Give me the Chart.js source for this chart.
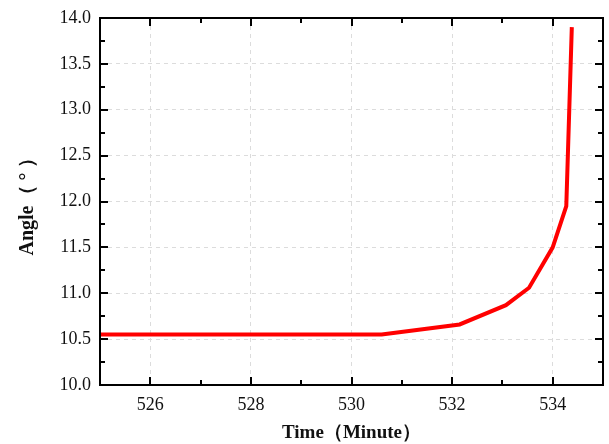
<!DOCTYPE html>
<html>
<head>
<meta charset="utf-8">
<script src="https://cdn.jsdelivr.net/npm/chart.js@4.4.0/dist/chart.umd.min.js"></script>
<style>
  html, body { margin: 0; padding: 0; background: #fff; }
</style>
</head>
<body>
<canvas id="angle-chart" width="609" height="444"></canvas>
<script>
// values
const timeMinutes = [525, 530.6, 532.15, 533.07, 533.53, 534.0, 534.27, 534.38];
const angleDeg = [10.55, 10.55, 10.66, 10.87, 11.06, 11.5, 11.95, 13.9];

const xMajor = [526, 528, 530, 532, 534];
const xMinor = [525, 527, 529, 531, 533, 535];
const yMajor = [10, 10.5, 11, 11.5, 12, 12.5, 13, 13.5, 14];
const yMinor = [10.25, 10.75, 11.25, 11.75, 12.25, 12.75, 13.25, 13.75];

const font = 'Liberation Serif';

// Origin style frame: box + inward ticks on all four sides
const frameTicks = {
  id: 'frameTicks',
  afterDraw(chart) {
    const { ctx, chartArea: a, scales } = chart;
    ctx.save();
    ctx.strokeStyle = '#000';
    ctx.lineWidth = 2;
    ctx.strokeRect(a.left, a.top, a.right - a.left, a.bottom - a.top);
    const xs = (vals, len) => vals.forEach(v => {
      const px = Math.round(scales.x.getPixelForValue(v));
      ctx.beginPath();
      ctx.moveTo(px, a.bottom); ctx.lineTo(px, a.bottom - len);
      ctx.moveTo(px, a.top); ctx.lineTo(px, a.top + len);
      ctx.stroke();
    });
    const ys = (vals, len) => vals.forEach(v => {
      const py = Math.round(scales.y.getPixelForValue(v));
      ctx.beginPath();
      ctx.moveTo(a.left, py); ctx.lineTo(a.left + len, py);
      ctx.moveTo(a.right, py); ctx.lineTo(a.right - len, py);
      ctx.stroke();
    });
    xs(xMajor, 8); xs(xMinor, 5);
    ys(yMajor, 8); ys(yMinor, 5);
    ctx.restore();
  }
};

const ctx = document.getElementById('angle-chart').getContext('2d');
new Chart(ctx, {
  type: 'scatter',
  data: {
    datasets: [{
      data: timeMinutes.map((t, i) => ({ x: t, y: angleDeg[i] })),
      showLine: true,
      borderColor: 'rgb(255, 0, 0)',
      borderWidth: 4,
      pointRadius: 0,
      tension: 0,
      borderJoinStyle: 'miter',
    }],
  },
  options: {
    responsive: false,
    animation: false,
    layout: { padding: { left: 0, right: 6, top: 15, bottom: 0 } },
    plugins: { legend: { display: false }, tooltip: { enabled: false } },
    scales: {
      x: {
        min: 525,
        max: 535,
        afterBuildTicks: (scale) => { scale.ticks = xMajor.map(v => ({ value: v })); },
        afterFit: (scale) => { scale.height = 59; },
        grid: { color: '#dcdcdc', drawTicks: false, lineWidth: 1 },
        border: { display: false, dash: [4, 4] },
        ticks: { color: '#111', padding: 9, font: { family: font, size: 18 } },
        title: {
          display: true,
          text: 'Time（Minute）',
          color: '#111',
          padding: { top: 0, bottom: 0 },
          font: { family: font, size: 19, weight: 'bold' },
        },
      },
      y: {
        min: 10,
        max: 14,
        afterBuildTicks: (scale) => { scale.ticks = yMajor.map(v => ({ value: v })); },
        afterFit: (scale) => { scale.width = 100; },
        grid: { color: '#dcdcdc', drawTicks: false, lineWidth: 1 },
        border: { display: false, dash: [4, 4] },
        ticks: {
          color: '#111',
          padding: 9,
          font: { family: font, size: 18, lineHeight: 1 },
          callback: (v) => Number(v).toFixed(1),
        },
        title: {
          display: true,
          text: 'Angle（ ° ）',
          color: '#111',
          padding: { top: 16, bottom: 12 },
          font: { family: font, size: 20, weight: 'bold' },
        },
      },
    },
  },
  plugins: [frameTicks],
});
</script>
</body>
</html>
